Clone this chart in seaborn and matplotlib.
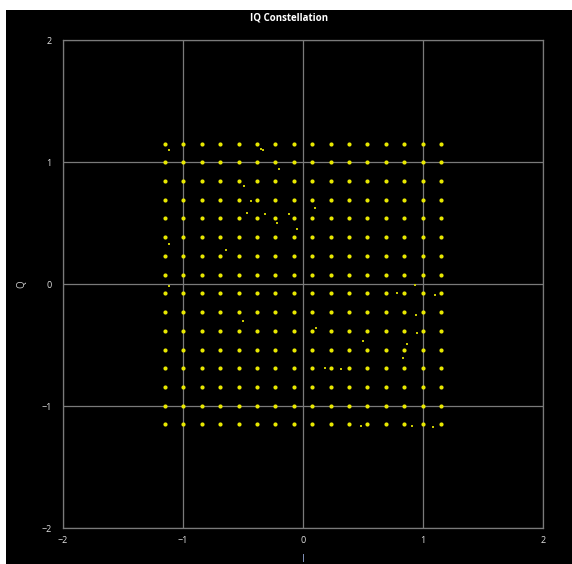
import numpy as np
import pandas as pd
import matplotlib
matplotlib.use("Agg")
import matplotlib.pyplot as plt
import seaborn as sns
from matplotlib.patches import Rectangle

# 256-QAM levels (I and Q)
levels = [-1.15, -0.997, -0.843, -0.69, -0.537, -0.383, -0.23, -0.077,
          0.077, 0.23, 0.383, 0.537, 0.69, 0.843, 0.997, 1.15]

# stray samples between the constellation points
stray_i = [-0.33, -0.20, -0.49, -0.43, -0.47, -0.32, -0.22, -0.12, -1.12, -0.64,
           -1.12, -1.12, -0.35, 1.10, 0.94, 0.95, 0.87, 0.50, 0.83, 0.18,
           0.32, 0.78, 0.11, 0.48, 0.91, 1.08, 0.93, -0.05, -0.50, 0.10]
stray_q = [1.10, 0.94, 0.80, 0.68, 0.58, 0.57, 0.50, 0.57, 0.33, 0.28,
           1.10, -0.02, 1.11, -0.09, -0.25, -0.40, -0.49, -0.47, -0.61, -0.69,
           -0.70, -0.07, -0.36, -1.16, -1.16, -1.17, -0.01, 0.45, -0.30, 0.62]

ticks = [-2, -1, 0, 1, 2]

grid = pd.MultiIndex.from_product([levels, levels], names=["I", "Q"]).to_frame(index=False)
stray = pd.DataFrame({"I": stray_i, "Q": stray_q})

sns.set_style("dark")
plt.rcParams['font.family'] = ['Open Sans', 'DejaVu Sans']

fig = plt.figure(figsize=(5.72, 5.64), dpi=100)
fig.patch.set_facecolor("white")
fig.patches.append(Rectangle((6/572, 0), 1, 1 - 10/564, transform=fig.transFigure,
                             facecolor="black", edgecolor="none", zorder=-1))
ax = fig.add_axes([63/572, 1 - 528/564, 480/572, 488/564])
ax.set_facecolor("black")

sns.scatterplot(data=grid, x="I", y="Q", ax=ax, color="#e8e800", s=9,
                marker="o", linewidth=0, zorder=3)
sns.scatterplot(data=stray, x="I", y="Q", ax=ax, color="#c8c800", s=3,
                marker="s", linewidth=0, zorder=3)

ax.set_xlim(-2, 2)
ax.set_ylim(-2, 2)
ax.set_xticks(ticks)
ax.set_yticks(ticks)
ax.grid(True, color="#7a7a7a", linewidth=0.9)
for s in ax.spines.values():
    s.set_visible(True)
    s.set_color("#7a7a7a")
    s.set_linewidth(0.9)
ax.tick_params(colors="#7a7a7a", labelcolor="#e0e0e0", labelsize=6.5, width=0.9)
ax.tick_params(axis="y", length=5, pad=3)
ax.tick_params(axis="x", length=4, pad=2)
ax.set_xlabel("I", color="#9aaedc", fontsize=7, labelpad=6)
ax.set_ylabel("Q", color="#d0d0d0", fontsize=7, labelpad=10, rotation=90)

fig.text(0.5 + 3/572, 1 - 18/564, "IQ Constellation", color="white", fontsize=7,
         fontweight="bold", ha="center", va="center")

fig.savefig("out.png", dpi=100, facecolor=fig.get_facecolor())
